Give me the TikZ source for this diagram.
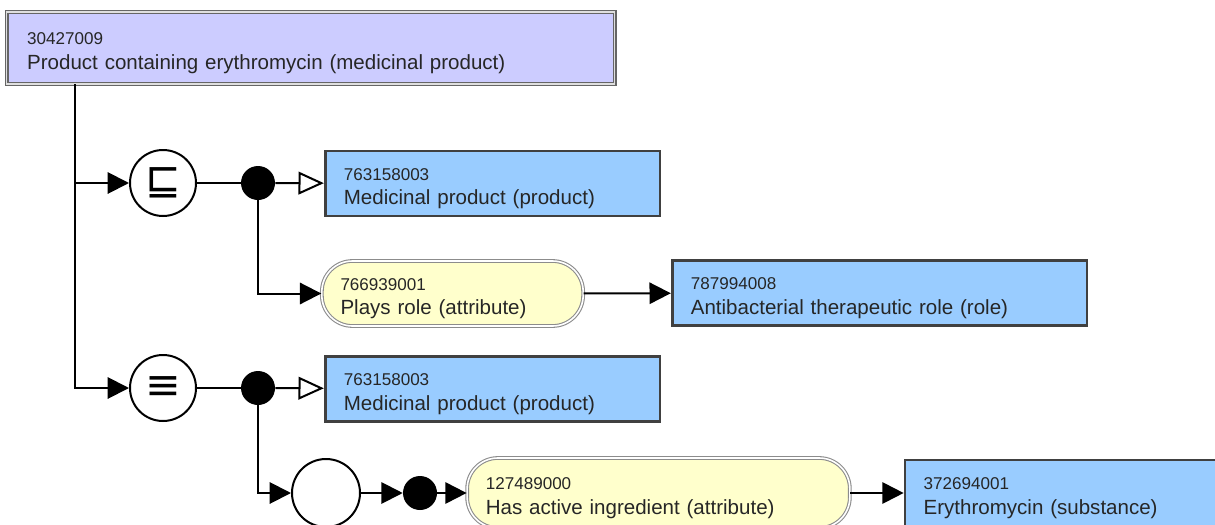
\documentclass[tikz,border=0pt]{standalone}
\usepackage{fontspec}
\setmainfont{Liberation Sans}
\newfontfamily\symbolschrift{DejaVu Sans}
\usetikzlibrary{arrows.meta}

\definecolor{konzeptblau}{HTML}{99CCFF}
\definecolor{definiert}{HTML}{CCCCFF}
\definecolor{attributgelb}{HTML}{FFFFCC}

\newcommand{\sctid}[2]{{\fontsize{12.8}{14}\selectfont\rule{0pt}{16.5pt}#1}\\#2}

\tikzset{
  konzept/.style={rectangle, draw=black!75, line width=2pt, fill=konzeptblau,
    align=left, inner xsep=14pt, minimum height=48.75pt,
    font=\fontsize{15.4}{18.3}\selectfont, text=black!85},
  oberbegriff/.style={konzept, fill=definiert, draw=gray!80!black, double=gray!25,
    line width=0.9pt, double distance=1.2pt, minimum height=54pt, inner xsep=15.5pt},
  attribut/.style={konzept, fill=attributgelb, draw=gray!90, double=white,
    line width=0.8pt, double distance=1.2pt, rounded corners=23pt},
  operator/.style={circle, draw, line width=1.5pt, minimum size=49.5pt, inner sep=0pt,
    fill=white, font=\symbolschrift\fontsize{32}{32}\selectfont},
  knoten/.style={circle, fill=black, minimum size=25.5pt, inner sep=0pt},
  linie/.style={line width=1.5pt},
  pfeil/.style={linie, -{Triangle[length=16pt,width=16pt]}},
  isa/.style={linie, -{Triangle[open,length=19pt,width=17pt,fill=white]}},
}

\begin{document}
\begin{tikzpicture}[x=0.75pt, y=-0.75pt]
\useasboundingbox (0,0) rectangle (1215,525);
\clip (0,0) rectangle (1215,525);

% Oberbegriff
\node[oberbegriff, text width=425pt] (top) at (310.5,48)
  {\sctid{30427009}{Product containing erythromycin (medicinal product)}};
\coordinate (stamm) at (75,84);

% Erster Zweig
\node[operator] (sub) at (163,183) {⊑};
\node[knoten] (k1) at (258,183) {};
\node[konzept, text width=223pt] (med1) at (492.5,183.5)
  {\sctid{763158003}{Medicinal product (product)}};
\node[attribut, text width=168pt] (rolle) at (452.5,293.5)
  {\sctid{766939001}{Plays role (attribute)}};
\node[konzept, text width=283pt] (anti) at (879.5,293)
  {\sctid{787994008}{Antibacterial therapeutic role (role)}};

% Zweiter Zweig
\node[operator] (aeq) at (163,388) {≡};
\node[knoten] (k2) at (258,388) {};
\node[konzept, text width=223pt] (med2) at (492.5,389)
  {\sctid{763158003}{Medicinal product (product)}};
\node[operator, minimum size=51pt] (grp) at (326,493) {};
\node[knoten] (k3) at (420,493) {};
\node[attribut, text width=259pt, minimum height=52.5pt] (wirk) at (658.5,493)
  {\sctid{127489000}{Has active ingredient (attribute)}};
\node[konzept, text width=212pt, minimum height=49.5pt] (ery) at (1065,493)
  {\sctid{372694001}{Erythromycin (substance)}};

% Verbindungen
\draw[pfeil] (stamm) |- (sub);
\draw[pfeil] (stamm) |- (aeq);
\draw[linie] (sub) -- (k1);
\draw[isa] (k1) -- (med1);
\draw[pfeil] (k1) |- (rolle);
\draw[pfeil] (rolle) -- (anti);
\draw[linie] (aeq) -- (k2);
\draw[isa] (k2) -- (med2);
\draw[pfeil] (k2) |- (grp);
\draw[pfeil] (grp) -- (k3);
\draw[pfeil] (k3) -- (wirk);
\draw[pfeil] (wirk) -- (ery);

\end{tikzpicture}
\end{document}
